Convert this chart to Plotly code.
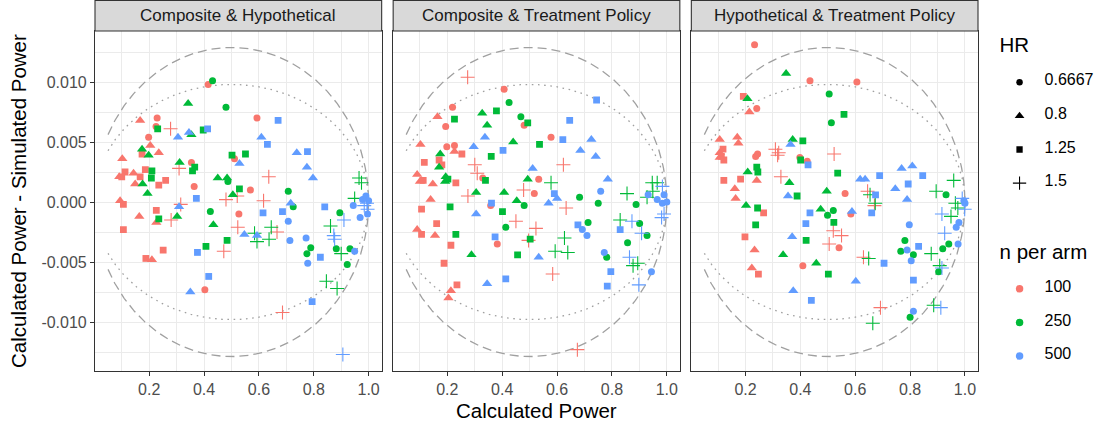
import numpy as np
import plotly.graph_objects as go

# ---------------- data ----------------
FACETS = ["Composite & Hypothetical", "Composite & Treatment Policy",
          "Hypothetical & Treatment Policy"]
HR_LEVELS = [0.6667, 0.8, 1.25, 1.5]
HR_LABELS = ["0.6667", "0.8", "1.25", "1.5"]
N_LEVELS = [100, 250, 500]
N_LABELS = ["100", "250", "500"]

X_TICKVALS = [0.2, 0.4, 0.6, 0.8, 1.0]
X_TICKTEXT = ["0.2", "0.4", "0.6", "0.8", "1.0"]
Y_TICKVALS = [-0.010, -0.005, 0.0, 0.005, 0.010]
Y_TICKTEXT = ["-0.010", "-0.005", "0.000", "0.005", "0.010"]

# reference bands: z * sqrt(p(1-p)/n_sim)
N_SIM = 10000
Z_OUTER = 2.576
Z_INNER = 1.96
P_MIN, P_MAX = 0.05, 1.0

# Panel 1: Composite & Hypothetical
P1_POWER = [0.431, 0.415, 0.342, 0.480, 0.167, 0.229, 0.225, 0.231, 0.278, 0.305,
            0.345, 0.354, 0.397, 0.413, 0.198, 0.204, 0.174, 0.174, 0.198, 0.235,
            0.102, 0.354, 0.311, 0.309, 0.366, 0.358, 0.502, 0.511, 0.529, 0.091,
            0.112, 0.100, 0.143, 0.186, 0.167, 0.210, 0.208, 0.149, 0.176, 0.235,
            0.260, 0.194, 0.364, 0.450, 0.484, 0.487, 0.529, 0.505, 0.480, 0.521,
            0.372, 0.309, 0.315, 0.094, 0.106, 0.164, 0.226, 0.226, 0.235, 0.280,
            0.302, 0.423, 0.434, 0.527, 0.523, 0.106, 0.484, 0.407, 0.376, 0.472,
            0.251, 0.188, 0.210, 0.417, 0.350, 0.403,
            0.593, 0.670, 0.609, 0.631, 0.551, 0.738, 0.777, 0.775, 0.797, 0.636,
            0.569, 0.617, 0.707, 0.716, 0.725, 0.615, 0.686, 0.840, 0.707, 0.895,
            0.910, 0.944, 0.969, 0.965, 0.974, 0.949, 0.990, 0.978, 0.994, 0.996,
            0.996, 1.000, 0.984, 0.666, 0.645, 0.547, 0.593, 0.593, 0.637, 0.584,
            0.713, 0.772, 0.789, 0.775, 0.778, 0.824, 0.861, 0.873, 0.876, 0.882,
            0.900, 0.932, 0.949, 0.922, 0.846, 0.885, 0.794, 0.686, 0.906]
P1_DIFF = [0.0101, 0.0098, 0.0082, 0.0079, 0.0068, 0.0070, 0.0063, 0.0061, 0.0061, 0.0054,
           0.0058, 0.0056, 0.0060, 0.0061, 0.0054, 0.0047, 0.0044, 0.0040, 0.0039, 0.0041,
           0.0036, 0.0033, 0.0033, 0.0028, 0.0029, 0.0026, 0.0039, 0.0036, 0.0032, 0.0021,
           0.0025, 0.0021, 0.0024, 0.0027, 0.0021, 0.0026, 0.0020, 0.0015, 0.0015, 0.0014,
           0.0018, 0.0007, 0.0013, 0.0020, 0.0020, 0.0017, 0.0011, 0.0006, 0.0002, 0.0005,
           0.0003, -0.0004, -0.0002, 0.0001, -0.0002, -0.0012, -0.0007, -0.0017, -0.0014, -0.0015,
           -0.0012, -0.0008, -0.0019, -0.0010, -0.0021, -0.0023, -0.0032, -0.0037, -0.0042, -0.0041,
           -0.0040, -0.0047, -0.0048, -0.0062, -0.0075, -0.0073,
           0.0070, 0.0068, 0.0054, 0.0048, 0.0040, 0.0041, 0.0042, 0.0029, 0.0020, 0.0021,
           0.0010, 0.0001, 0.0009, -0.0001, -0.0004, -0.0009, -0.0008, -0.0004, -0.0016, -0.0009,
           -0.0015, -0.0003, -0.0013, 0.0020, 0.0016, 0.0003, 0.0005, 0.0002, -0.0001, -0.0006,
           -0.0010, 0.0001, -0.0003, -0.0025, -0.0021, -0.0027, -0.0033, -0.0028, -0.0031, -0.0026,
           -0.0032, -0.0030, -0.0038, -0.0043, -0.0051, -0.0046, -0.0020, -0.0028, -0.0031, -0.0039,
           -0.0043, -0.0039, -0.0041, -0.0052, -0.0066, -0.0072, -0.0083, -0.0092, -0.0127]
P1_HR = [0.6667, 0.6667, 0.8, 0.6667, 0.8, 0.6667, 0.6667, 1.25, 1.5, 0.8,
         0.8, 0.8, 1.25, 1.25, 0.6667, 0.8, 0.8, 1.25, 0.8, 0.8,
         0.8, 0.6667, 0.8, 1.5, 1.25, 1.25, 1.25, 0.6667, 0.8, 0.8,
         1.25, 1.25, 0.8, 1.25, 1.25, 1.25, 1.25, 0.8, 0.8, 1.25,
         1.25, 0.8, 0.6667, 0.8, 0.8, 0.6667, 1.25, 0.8, 1.5, 1.5,
         1.25, 0.8, 1.5, 0.8, 1.25, 0.8, 1.25, 0.8, 1.25, 1.5,
         0.8, 0.6667, 0.8, 0.6667, 1.5, 1.25, 1.25, 1.25, 1.25, 1.5,
         1.25, 1.25, 0.8, 1.25, 0.8, 0.6667,
         0.6667, 1.25, 0.8, 1.25, 1.25, 0.8, 1.25, 0.8, 0.8, 1.5,
         0.6667, 1.5, 0.6667, 0.8, 0.6667, 1.25, 1.25, 1.25, 0.6667, 0.6667,
         1.5, 0.6667, 0.6667, 1.5, 1.5, 1.5, 0.6667, 0.6667, 1.5, 1.5,
         0.6667, 0.6667, 1.5, 1.5, 1.5, 0.8, 1.5, 0.8, 1.5, 1.5,
         0.6667, 0.6667, 0.6667, 0.6667, 0.6667, 1.25, 1.5, 1.5, 1.5, 0.6667,
         1.5, 0.6667, 0.6667, 0.6667, 1.5, 1.5, 1.25, 1.5, 1.5]
P1_N = [250, 100, 250, 250, 100, 100, 100, 250, 100, 500,
        500, 250, 250, 500, 100, 100, 250, 100, 250, 100,
        100, 100, 250, 100, 250, 250, 250, 100, 500, 100,
        100, 100, 100, 100, 100, 250, 250, 100, 250, 100,
        100, 250, 100, 250, 250, 250, 250, 250, 100, 100,
        500, 500, 100, 100, 100, 100, 100, 100, 250, 100,
        250, 250, 250, 100, 100, 100, 250, 250, 500, 100,
        100, 100, 100, 500, 500, 100,
        100, 500, 500, 500, 250, 500, 500, 500, 500, 100,
        100, 100, 250, 500, 250, 500, 500, 500, 500, 250,
        500, 500, 500, 250, 250, 250, 500, 500, 500, 500,
        500, 500, 500, 100, 250, 500, 250, 500, 250, 250,
        500, 500, 250, 250, 500, 500, 250, 500, 500, 250,
        250, 250, 500, 250, 250, 250, 500, 100, 500]

# Panel 2: Composite & Treatment Policy
P2_POWER = [0.274, 0.407, 0.425, 0.219, 0.164, 0.226, 0.194, 0.327, 0.379, 0.345,
            0.468, 0.480, 0.493, 0.337, 0.440, 0.536, 0.102, 0.198, 0.226, 0.296,
            0.174, 0.226, 0.253, 0.403, 0.360, 0.116, 0.170, 0.180, 0.170, 0.300,
            0.309, 0.329, 0.339, 0.511, 0.090, 0.100, 0.112, 0.147, 0.194, 0.192,
            0.202, 0.231, 0.493, 0.533, 0.478, 0.517, 0.305, 0.407, 0.453, 0.480,
            0.275, 0.361, 0.358, 0.401, 0.139, 0.106, 0.210, 0.305, 0.161, 0.450,
            0.413, 0.523, 0.090, 0.106, 0.155, 0.231, 0.374, 0.382, 0.496, 0.502,
            0.213, 0.288, 0.456, 0.533, 0.188, 0.235, 0.213, 0.204, 0.345, 0.413,
            0.744, 0.646, 0.578, 0.621, 0.725, 0.685, 0.741, 0.623, 0.785, 0.578,
            0.590, 0.600, 0.569, 0.682, 0.759, 0.750, 0.633, 0.855, 0.888, 0.932,
            0.947, 0.965, 0.949, 0.928, 0.984, 0.990, 0.965, 0.984, 1.000, 0.990,
            0.981, 0.713, 0.676, 0.692, 0.709, 0.830, 0.873, 0.830, 0.901, 0.908,
            0.928, 0.627, 0.593, 0.639, 0.857, 0.772, 0.781, 0.864, 0.877, 0.894,
            0.944, 0.796, 0.584, 0.783, 0.898, 0.674]
P2_DIFF = [0.0104, 0.0094, 0.0083, 0.0079, 0.0071, 0.0069, 0.0063, 0.0074, 0.0076, 0.0064,
           0.0071, 0.0064, 0.0066, 0.0054, 0.0050, 0.0048, 0.0048, 0.0046, 0.0047, 0.0046,
           0.0040, 0.0042, 0.0040, 0.0043, 0.0038, 0.0033, 0.0035, 0.0031, 0.0029, 0.0031,
           0.0024, 0.0020, 0.0018, 0.0028, 0.0023, 0.0017, 0.0018, 0.0015, 0.0021, 0.0017,
           0.0019, 0.0016, 0.0019, 0.0019, 0.0010, 0.0007, 0.0008, 0.0008, 0.0001, -0.0003,
           0.0005, -0.0001, -0.0003, -0.0008, 0.0002, -0.0006, -0.0004, -0.0010, -0.0018, -0.0016,
           -0.0021, -0.0022, -0.0023, -0.0027, -0.0028, -0.0027, -0.0029, -0.0035, -0.0032, -0.0031,
           -0.0036, -0.0044, -0.0044, -0.0046, -0.0051, -0.0069, -0.0074, -0.0080, -0.0068, -0.0064,
           0.0085, 0.0068, 0.0054, 0.0052, 0.0052, 0.0043, 0.0038, 0.0031, 0.0019, 0.0016,
           0.0007, 0.0003, -0.0001, 0.0004, 0.0009, -0.0001, -0.0005, 0.0007, -0.0002, 0.0006,
           0.0016, 0.0016, 0.0009, 0.0004, 0.0013, 0.0006, 0.0002, -0.0001, 0.0000, -0.0010,
           -0.0013, -0.0017, -0.0019, -0.0023, -0.0028, -0.0015, -0.0016, -0.0023, -0.0018, -0.0026,
           -0.0028, -0.0030, -0.0041, -0.0042, -0.0034, -0.0042, -0.0046, -0.0046, -0.0053, -0.0051,
           -0.0058, -0.0058, -0.0060, -0.0070, -0.0069, -0.0123]
P2_HR = [1.5, 0.6667, 0.6667, 0.6667, 0.8, 1.25, 0.6667, 0.8, 1.25, 0.8,
         0.6667, 0.6667, 1.25, 0.8, 0.8, 1.25, 0.8, 0.6667, 0.6667, 0.8,
         0.8, 0.8, 1.25, 1.25, 1.25, 1.25, 1.25, 1.25, 0.8, 1.5,
         1.5, 0.6667, 1.25, 0.8, 0.8, 0.8, 1.25, 0.8, 0.8, 0.8,
         1.25, 1.25, 0.8, 0.6667, 1.5, 0.6667, 0.8, 0.8, 0.8, 0.6667,
         1.5, 1.25, 0.6667, 1.25, 0.8, 1.25, 1.25, 0.8, 1.25, 1.5,
         0.6667, 1.5, 0.8, 1.25, 0.8, 1.25, 1.25, 0.6667, 1.5, 1.25,
         1.25, 0.8, 1.25, 0.8, 1.25, 1.25, 0.8, 0.8, 0.8, 1.25,
         1.25, 1.25, 0.6667, 1.25, 0.8, 0.8, 0.8, 1.5, 0.8, 1.5,
         1.25, 0.8, 0.8, 0.6667, 0.6667, 0.6667, 1.5, 1.5, 0.6667, 0.6667,
         1.5, 1.5, 1.5, 1.5, 1.5, 0.6667, 0.6667, 0.6667, 0.6667, 1.5,
         1.5, 0.6667, 1.25, 0.6667, 0.6667, 1.5, 1.5, 1.25, 0.6667, 1.5,
         0.6667, 1.5, 1.5, 1.5, 0.6667, 0.6667, 0.6667, 1.5, 1.5, 1.5,
         0.6667, 1.25, 1.5, 1.25, 1.5, 1.5]
P2_N = [100, 100, 250, 100, 100, 250, 100, 250, 250, 250,
        250, 100, 250, 500, 250, 250, 100, 100, 100, 500,
        250, 100, 100, 500, 250, 100, 100, 100, 250, 100,
        100, 100, 250, 500, 100, 100, 100, 100, 250, 250,
        250, 100, 250, 100, 100, 100, 250, 250, 250, 250,
        100, 500, 100, 250, 100, 100, 250, 500, 100, 100,
        250, 100, 100, 100, 100, 250, 500, 100, 100, 250,
        100, 250, 250, 500, 100, 100, 100, 100, 500, 500,
        500, 500, 100, 500, 500, 500, 500, 100, 500, 250,
        500, 500, 500, 250, 500, 250, 100, 250, 250, 500,
        250, 250, 250, 250, 500, 500, 500, 500, 500, 500,
        500, 250, 500, 500, 500, 250, 500, 500, 250, 500,
        250, 250, 250, 250, 250, 500, 250, 500, 250, 250,
        500, 500, 100, 500, 500, 100]

# Panel 3: Hypothetical & Treatment Policy
P3_POWER = [0.233, 0.348, 0.435, 0.505, 0.192, 0.207, 0.241, 0.214, 0.513, 0.106,
            0.170, 0.174, 0.372, 0.409, 0.364, 0.118, 0.106, 0.112, 0.121, 0.106,
            0.309, 0.321, 0.317, 0.244, 0.237, 0.398, 0.425, 0.401, 0.428, 0.523,
            0.241, 0.245, 0.208, 0.121, 0.182, 0.161, 0.164, 0.241, 0.329, 0.360,
            0.536, 0.355, 0.388, 0.496, 0.202, 0.244, 0.266, 0.474, 0.499, 0.520,
            0.522, 0.435, 0.420, 0.237, 0.520, 0.505, 0.198, 0.370, 0.421, 0.233,
            0.337, 0.409, 0.458, 0.502, 0.223, 0.247, 0.374, 0.440,
            0.606, 0.559, 0.563, 0.645, 0.654, 0.674, 0.670, 0.673, 0.618, 0.636,
            0.689, 0.746, 0.769, 0.808, 0.846, 0.793, 0.789, 0.588, 0.584, 0.660,
            0.550, 0.541, 0.895, 0.931, 0.959, 0.965, 0.974, 0.949, 0.990, 0.999,
            0.996, 1.000, 0.916, 0.926, 0.978, 0.968, 0.975, 0.797, 0.781, 0.766,
            0.789, 0.812, 0.804, 0.831, 0.877, 0.919, 0.941, 0.908, 0.904, 0.916,
            0.630, 0.649, 0.705, 0.812, 0.602, 0.692, 0.664, 0.886, 0.912, 0.812,
            0.800]
P3_DIFF = [0.0131, 0.0107, 0.0101, 0.0090, 0.0088, 0.0086, 0.0078, 0.0075, 0.0066, 0.0052,
           0.0054, 0.0049, 0.0052, 0.0051, 0.0048, 0.0044, 0.0041, 0.0038, 0.0035, 0.0037,
           0.0044, 0.0041, 0.0039, 0.0040, 0.0038, 0.0037, 0.0034, 0.0035, 0.0031, 0.0040,
           0.0029, 0.0025, 0.0025, 0.0018, 0.0019, 0.0011, 0.0003, 0.0018, 0.0021, 0.0016,
           0.0024, 0.0005, 0.0005, 0.0009, -0.0003, -0.0005, -0.0009, -0.0006, -0.0011, -0.0007,
           -0.0017, -0.0009, -0.0018, -0.0019, -0.0024, -0.0035, -0.0029, -0.0029, -0.0032, -0.0040,
           -0.0044, -0.0053, -0.0051, -0.0060, -0.0055, -0.0060, -0.0074, -0.0082,
           0.0100, 0.0073, 0.0007, 0.0009, 0.0006, 0.0006, -0.0003, -0.0001, 0.0019, 0.0019,
           0.0022, 0.0011, 0.0028, 0.0030, 0.0022, 0.0015, 0.0002, -0.0008, -0.0010, -0.0009,
           -0.0028, -0.0038, 0.0009, 0.0006, 0.0018, -0.0001, -0.0005, -0.0012, 0.0003, -0.0006,
           0.0001, -0.0001, -0.0010, -0.0026, -0.0017, -0.0021, -0.0035, -0.0019, -0.0032, -0.0041,
           -0.0040, -0.0044, -0.0049, -0.0037, -0.0043, -0.0039, -0.0035, -0.0053, -0.0058, -0.0055,
           -0.0046, -0.0047, -0.0051, -0.0065, -0.0066, -0.0088, -0.0101, -0.0086, -0.0088, -0.0091,
           -0.0096]
P3_HR = [0.6667, 0.8, 0.6667, 0.6667, 1.25, 0.8, 0.6667, 0.8, 0.6667, 0.8,
         0.8, 0.8, 0.8, 1.25, 0.8, 1.25, 0.8, 1.25, 1.25, 0.8,
         1.5, 1.5, 1.5, 0.6667, 0.6667, 0.6667, 0.6667, 1.25, 1.25, 1.5,
         1.25, 1.25, 0.8, 1.25, 1.25, 0.8, 0.8, 0.8, 1.5, 0.8,
         1.25, 0.8, 1.25, 0.8, 0.8, 1.25, 1.25, 0.8, 0.6667, 0.6667,
         1.25, 1.25, 1.25, 1.25, 1.5, 1.5, 1.25, 0.8, 1.25, 0.8,
         0.8, 0.6667, 0.8, 1.25, 0.8, 1.25, 0.8, 1.25,
         0.6667, 1.25, 0.6667, 1.5, 1.5, 1.25, 1.5, 1.5, 0.8, 0.8,
         1.25, 0.8, 0.8, 0.8, 1.25, 1.25, 0.8, 0.8, 0.6667, 1.25,
         1.5, 0.6667, 1.5, 0.6667, 1.5, 1.5, 1.5, 1.5, 1.5, 1.5,
         0.6667, 0.6667, 1.5, 1.5, 0.6667, 0.6667, 0.6667, 0.6667, 0.6667, 0.6667,
         0.6667, 0.6667, 0.6667, 1.25, 1.5, 0.6667, 0.6667, 1.5, 0.6667, 1.5,
         1.5, 1.5, 1.25, 1.25, 0.8, 1.5, 1.5, 1.5, 1.5, 0.6667,
         0.6667]
P3_N = [100, 250, 100, 250, 100, 250, 100, 100, 250, 100,
        100, 100, 250, 250, 500, 100, 100, 100, 100, 100,
        100, 100, 100, 100, 100, 100, 100, 250, 500, 100,
        250, 250, 250, 100, 100, 100, 100, 100, 100, 250,
        250, 500, 250, 250, 250, 250, 100, 250, 250, 250,
        250, 500, 500, 250, 100, 100, 100, 500, 250, 100,
        250, 100, 250, 250, 100, 100, 500, 500,
        100, 250, 100, 100, 250, 500, 100, 250, 500, 500,
        500, 500, 500, 500, 500, 500, 500, 500, 100, 500,
        100, 100, 250, 250, 250, 250, 250, 250, 500, 500,
        500, 500, 500, 500, 500, 500, 500, 500, 250, 250,
        500, 250, 500, 500, 250, 250, 250, 250, 250, 500,
        100, 250, 500, 500, 500, 100, 250, 250, 500, 500,
        250]

# ---------------- styling ----------------
FONT = "Liberation Sans, Arial, Helvetica, sans-serif"
N_COLORS = {100: "#F8766D", 250: "#00BA38", 500: "#619CFF"}
HR_STYLE = {0.6667: ("circle", 7.0, 0), 0.8: ("triangle-up", 9.0, 0),
            1.25: ("square", 6.8, 0), 1.5: ("cross-thin-open", 10.0, 1.1)}
BAND_COLOR = "#A0A0A0"

W, H = 1102, 429
ML, MR, MT, MB = 95, 124, 31, 58
PW = W - ML - MR
GAP = 11.5
PANEL_W = (PW - 2 * GAP) / 3
DOMAINS = [[(k * (PANEL_W + GAP)) / PW, (k * (PANEL_W + GAP) + PANEL_W) / PW] for k in range(3)]
PH = H - MT - MB
STRIP_H = 30.5 / PH

X_RANGE = [0.0025, 1.0475]
Y_RANGE = [-0.01408, 0.01425]

fig = go.Figure()
panels = [(P1_POWER, P1_DIFF, P1_HR, P1_N),
          (P2_POWER, P2_DIFF, P2_HR, P2_N),
          (P3_POWER, P3_DIFF, P3_HR, P3_N)]

p_grid = np.linspace(P_MIN, P_MAX, 400)
for i, (pw, dfv, hrv, nv) in enumerate(panels):
    sfx = "" if i == 0 else str(i + 1)
    xa, ya = "x" + sfx, "y" + sfx
    for z, dash in [(Z_OUTER, "9px,5px"), (Z_INNER, "1.6px,4.6px")]:
        half = z * np.sqrt(p_grid * (1 - p_grid) / N_SIM)
        xs = np.concatenate([p_grid, [np.nan], p_grid])
        ys = np.concatenate([half, [np.nan], -half])
        fig.add_trace(go.Scatter(x=xs, y=ys, mode="lines", xaxis=xa, yaxis=ya,
                                 line=dict(color=BAND_COLOR, width=1.3, dash=dash),
                                 showlegend=False, hoverinfo="skip", connectgaps=False))
    pw = np.array(pw); dfv = np.array(dfv); hrv = np.array(hrv); nv = np.array(nv)
    for n in N_LEVELS:
        for h in HR_LEVELS:
            m = (nv == n) & np.isclose(hrv, h)
            if not m.any():
                continue
            sym, size, lw = HR_STYLE[h]
            fig.add_trace(go.Scatter(
                x=pw[m], y=dfv[m], mode="markers", xaxis=xa, yaxis=ya,
                marker=dict(symbol=sym, size=size, color=N_COLORS[n],
                            line=dict(width=lw, color=N_COLORS[n])),
                showlegend=False, hoverinfo="skip"))

# legend entries (HR shapes, then n per arm colours)
def legend_name(lbl):
    return "\u00a0<br><span style='font-size:16px'>" + lbl + "</span><br>\u00a0"

def group_title(txt):
    return "<span style='font-size:20.5px'>" + txt + "</span><br>\u00a0"

for k, (h, lbl) in enumerate(zip(HR_LEVELS, HR_LABELS)):
    sym, size, lw = HR_STYLE[h]
    fig.add_trace(go.Scatter(
        x=[None], y=[None], mode="markers", name=legend_name(lbl),
        legendgroup="hr",
        legendgrouptitle=dict(text=group_title("HR"), font=dict(size=7.5, color="black")),
        marker=dict(symbol=sym, size=size - 0.5, color="black", line=dict(width=lw, color="black"))))
for k, (n, lbl) in enumerate(zip(N_LEVELS, N_LABELS)):
    fig.add_trace(go.Scatter(
        x=[None], y=[None], mode="markers", name=legend_name(lbl),
        legendgroup="n",
        legendgrouptitle=dict(text=group_title("n per arm"), font=dict(size=7.5, color="black")),
        marker=dict(symbol="circle", size=7.5, color=N_COLORS[n])))

axis_common = dict(showline=True, mirror=True, linecolor="#333333", linewidth=1.1,
                   showgrid=True, gridcolor="#EBEBEB", gridwidth=1.1, zeroline=False,
                   ticks="outside", ticklen=4, tickwidth=1.1, tickcolor="#333333",
                   tickfont=dict(size=16, color="#4D4D4D", family=FONT))

layout = dict(
    width=W, height=H, margin=dict(l=ML, r=MR, t=MT, b=MB, autoexpand=False),
    paper_bgcolor="white", plot_bgcolor="white",
    font=dict(family=FONT, color="black"),
    legend=dict(x=1.021 - 2.0 / PW, y=1.018 - 13.1 / PH, xanchor="left", yanchor="top",
                xref="paper", yref="paper",
                font=dict(size=7.85, family=FONT, color="black"),
                tracegroupgap=49.6, itemwidth=40, traceorder="grouped",
                maxheight=425, bgcolor="rgba(0,0,0,0)"),
    shapes=[], annotations=[],
)
for i in range(3):
    sfx = "" if i == 0 else str(i + 1)
    xa = dict(axis_common, domain=DOMAINS[i], range=X_RANGE, tickvals=X_TICKVALS,
              ticktext=X_TICKTEXT, anchor="y" + sfx,
              minor=dict(tickvals=[0.1, 0.3, 0.5, 0.7, 0.9], showgrid=True,
                         gridcolor="#EBEBEB", gridwidth=0.55, ticks=""))
    ya = dict(axis_common, domain=[0, 1], range=Y_RANGE, tickvals=Y_TICKVALS,
              ticktext=Y_TICKTEXT, anchor="x" + sfx,
              minor=dict(tickvals=[-0.0125, -0.0075, -0.0025, 0.0025, 0.0075, 0.0125],
                         showgrid=True, gridcolor="#EBEBEB", gridwidth=0.55, ticks=""))
    if i > 0:
        ya.update(showticklabels=False, ticks="")
    layout["xaxis" + sfx] = xa
    layout["yaxis" + sfx] = ya
    layout["shapes"].append(dict(type="rect", xref="paper", yref="paper",
                                 x0=DOMAINS[i][0], x1=DOMAINS[i][1], y0=1, y1=1 + STRIP_H,
                                 fillcolor="#D9D9D9", line=dict(color="#333333", width=1.1)))
    layout["annotations"].append(dict(text=FACETS[i], xref="paper", yref="paper",
                                      x=(DOMAINS[i][0] + DOMAINS[i][1]) / 2, y=1 + STRIP_H / 2,
                                      xanchor="center", yanchor="middle", showarrow=False,
                                      font=dict(size=17, color="#1A1A1A", family=FONT)))

layout["annotations"].append(dict(text="Calculated Power", xref="paper", yref="paper",
                                  x=0.5, y=0, yshift=-39, xanchor="center", yanchor="middle",
                                  showarrow=False, font=dict(size=20.5, color="black", family=FONT)))
layout["annotations"].append(dict(text="Calculated Power - Simulated Power", xref="paper",
                                  yref="paper", x=0, xshift=-(ML - 18), y=0.5,
                                  xanchor="center", yanchor="middle", textangle=-90,
                                  showarrow=False, font=dict(size=20.5, color="black", family=FONT)))

fig.update_layout(**layout)
fig.write_html("out.html", config={"displayModeBar": False},
               post_script="document.body.style.margin='0px';")
